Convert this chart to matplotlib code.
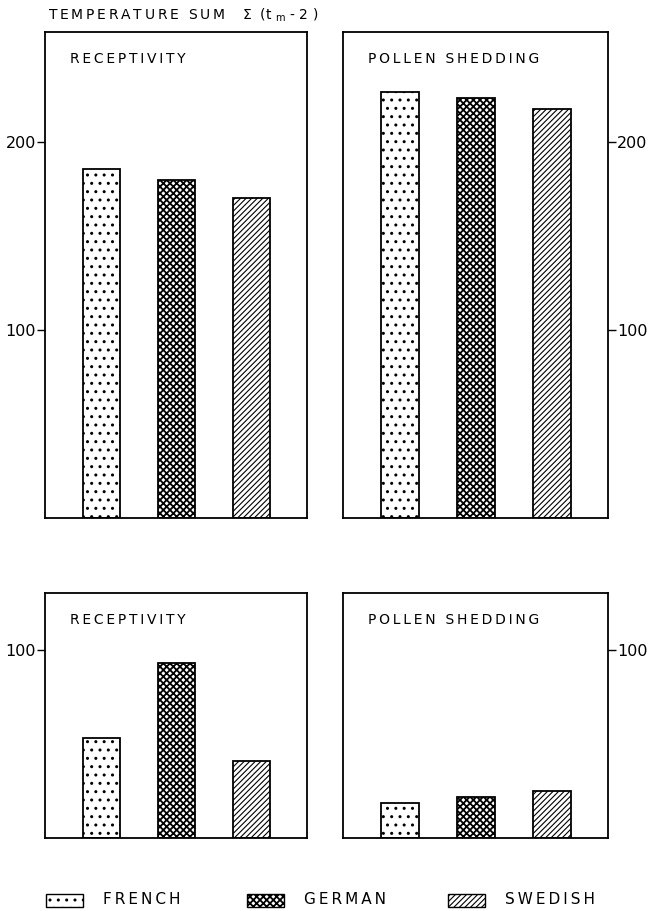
import matplotlib
matplotlib.use("Agg")
import matplotlib.pyplot as plt
from matplotlib.patches import Rectangle

plt.rcParams['font.family'] = ['DejaVu Sans']
plt.rcParams['hatch.linewidth'] = 1.0

# ---- data ----
provenances = ["FRENCH", "GERMAN", "SWEDISH"]
recept_top = [185.6, 179.8, 170.2]
pollen_top = [226.5, 223.4, 217.5]
recept_bottom = [53, 93, 41]
pollen_bottom = [18.6, 21.8, 25]
panel_titles = ["RECEPTIVITY", "POLLEN SHEDDING"]
top_ticks = [100, 200]
bottom_ticks = [100]

hatches = ["..", "xxxxx", "//////"]
hatch_lw = [1.0, 1.3, 0.8]

W, H = 653, 911
fig = plt.figure(figsize=(W / 100, H / 100), dpi=100)
TS = "\u2009"  # thin space used as letter spacing


def spaced(s):
    return TS.join(s)


def px_axes(x0, y0, x1, y1):
    return fig.add_axes([x0 / W, 1 - y1 / H, (x1 - x0) / W, (y1 - y0) / H])


def draw_panel(ax, values, title, ticks, ylim, side, hpx):
    xs = list(range(len(values)))
    bars = ax.bar(xs, values, width=0.5, color="white", edgecolor="black",
                  linewidth=1.3)
    for b, h, lw in zip(bars, hatches, hatch_lw):
        b.set_hatch(h)
        try:
            b.set_hatch_linewidth(lw)
        except Exception:
            pass
    ax.set_xlim(-0.75, 2.74)
    ax.set_ylim(*ylim)
    ax.set_xticks([])
    ax.set_yticks(ticks)
    ax.set_yticklabels([str(t) for t in ticks], fontsize=11.5)
    for s in ax.spines.values():
        s.set_linewidth(1.3)
    if side == "right":
        ax.yaxis.tick_right()
        ax.tick_params(axis="y", left=False, right=True, labelleft=False,
                       labelright=True)
    ax.tick_params(axis="y", direction="out", length=6, width=1.0, pad=0.5)
    ax.text(0.095, 1 - 27 / hpx, spaced(title),
            transform=ax.transAxes, fontsize=10, ha="left", va="center")


ax1 = px_axes(45, 32, 307, 518)
ax2 = px_axes(343, 32, 608, 518)
ax3 = px_axes(45, 593, 307, 838)
ax4 = px_axes(343, 593, 608, 838)

draw_panel(ax1, recept_top, panel_titles[0], top_ticks, (0, 258.5), "left", 486)
draw_panel(ax2, pollen_top, panel_titles[1], top_ticks, (0, 258.5), "right", 486)
draw_panel(ax3, recept_bottom, panel_titles[0], bottom_ticks, (0, 130), "left", 245)
draw_panel(ax4, pollen_bottom, panel_titles[1], bottom_ticks, (0, 130), "right", 245)

title_text = spaced("TEMPERATURE SUM") + "    " + r"$\Sigma$" + "  (t " + \
    r"$_{\mathrm{m}}$" + " - 2 )"
fig.text(48 / W, 1 - 15 / H, title_text, fontsize=10, ha="left", va="center")

# legend
lax = fig.add_axes([0, 1 - 911 / H, 1, 26 / H])
lax.set_xlim(0, W)
lax.set_ylim(0, 26)
lax.axis("off")
sw_x = [46, 247, 448]
for x, name, h, lw in zip(sw_x, provenances, hatches, hatch_lw):
    r = Rectangle((x, 4.5), 37, 13, facecolor="white", edgecolor="black",
                  linewidth=1.0, hatch=h)
    try:
        r.set_hatch_linewidth(lw)
    except Exception:
        pass
    lax.add_patch(r)
    lax.text(x + 57, 11, spaced(name), fontsize=11, ha="left", va="center")

fig.savefig("out.png", dpi=100)
